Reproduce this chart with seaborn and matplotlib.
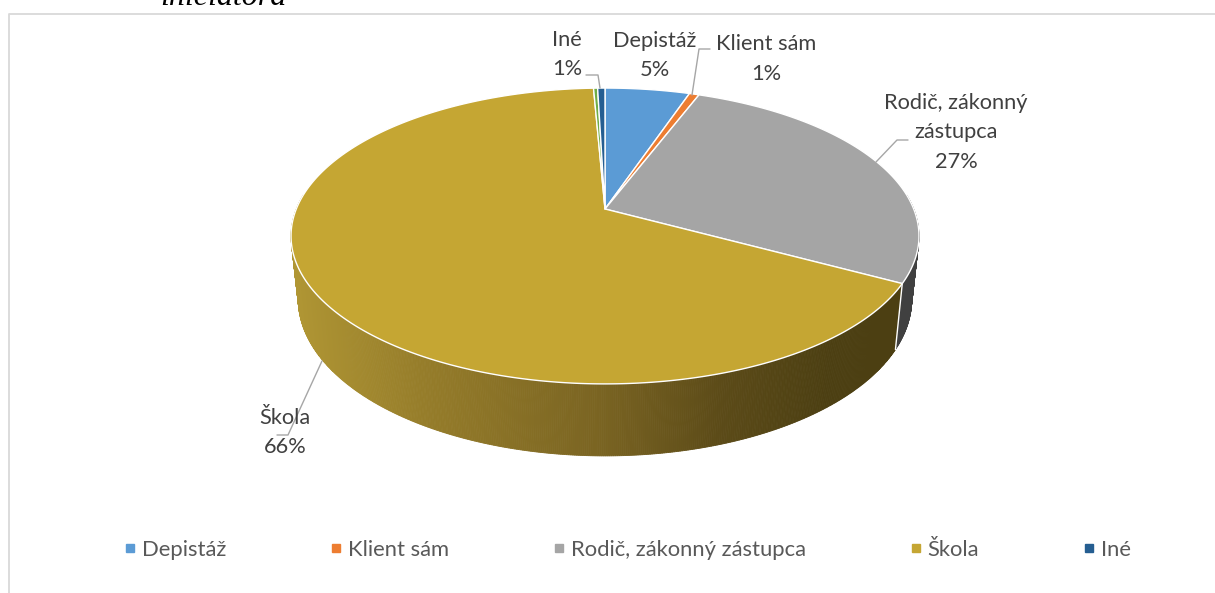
import numpy as np
import matplotlib
matplotlib.use("Agg")
import matplotlib.pyplot as plt
from matplotlib.lines import Line2D
import seaborn as sns

categories = ["Depistáž", "Klient sám", "Rodič, zákonný zástupca", "Škola", "", "Iné"]
values = [5.2, 0.6, 27.1, 66.4, 0.25, 0.45]
percent_labels = ["5%", "1%", "27%", "66%", "", "1%"]
label_lines = ["Depistáž", "Klient sám", "Rodič, zákonný\nzástupca", "Škola", "", "Iné"]
colors = ["#5B9BD5", "#ED7D31", "#A5A5A5", "#C5A633", "#70AD47", "#255E91"]
wall_colors = ["#3A5F82", "#8F4B1D", "#404040", "#4C3F12", "#44682B", "#163955"]

sns.set_theme(style="white")
plt.rcParams["font.family"] = ["Lato", "DejaVu Sans"]

fig = plt.figure(figsize=(12.15, 5.93), dpi=100, facecolor="white")
ax = fig.add_axes([0, 0, 1, 1])
ax.set_xlim(0, 1215)
ax.set_ylim(593, 0)
ax.axis("off")

# perspective projection of the pie disc
CX, CY, K, A, B = 605.0, 209.0, 0.1824, 308.7, 143.0


def rim(theta):
    u, v = np.sin(theta), np.cos(theta)
    d = 1 + K * v
    return CX + A * u / d, CY - B * v / d


def lower(x, y):
    return CX + 0.977 * (x - CX), 270.5 + 1.06 * (y - CY)


fractions = np.array(values) / np.sum(values)
edges = np.concatenate([[0], np.cumsum(fractions)]) * 2 * np.pi

# side wall
stops_x = [291, 420, 600, 720, 830, 920]
stops_c = np.array([[176, 150, 52], [150, 125, 42], [122, 100, 34],
                    [92, 75, 24], [76, 63, 18], [76, 63, 18]], dtype=float)
for i in range(len(values)):
    t0, t1 = edges[i], edges[i + 1]
    n = max(2, int((t1 - t0) * 180))
    ts = np.linspace(t0, t1, n + 1)
    for a, b in zip(ts[:-1], ts[1:]):
        if np.cos((a + b) / 2) > 0.1:
            continue
        xa, ya = rim(a)
        xb, yb = rim(b)
        xc, yc = lower(xb, yb)
        xd, yd = lower(xa, ya)
        if categories[i] == "Škola":
            xm = (xa + xb) / 2
            c = [np.interp(xm, stops_x, stops_c[:, j]) / 255 for j in range(3)]
        else:
            c = wall_colors[i]
        ax.fill([xa, xb, xc, xd], [ya, yb, yc, yd], color=c, lw=0.6, zorder=2)

# white seam between grey and school walls
xs, ys = rim(edges[3])
xl, yl = lower(xs, ys)
ax.plot([xs, xl], [ys, yl], color="white", lw=1.0, zorder=3)

# top face
for i in range(len(values)):
    ts = np.linspace(edges[i], edges[i + 1], max(3, int((edges[i + 1] - edges[i]) * 120)))
    x, y = rim(ts)
    ax.fill(np.r_[CX, x], np.r_[CY, y], facecolor=colors[i], edgecolor="white",
            lw=1.0, joinstyle="round", zorder=4)

# leader lines
leader = "#A6A6A6"
ax.plot([692, 699, 710], [95, 49, 49], color=leader, lw=1, zorder=5)
ax.plot([586, 598, 600], [75, 75, 88], color=leader, lw=1, zorder=5)
ax.plot([876, 897, 908], [162, 140, 140], color=leader, lw=1, zorder=5)
ax.plot([322, 288, 277], [361, 435, 435], color=leader, lw=1, zorder=5)

# data labels
label_pos = {0: (655, 55.5), 1: (766, 59), 2: (956, 132.5), 3: (285, 432.5), 5: (567, 54.5)}
for i, (x, y) in label_pos.items():
    ax.text(x, y, label_lines[i] + "\n" + percent_labels[i], ha="center", va="center",
            fontsize=15.7, color="#404040", linespacing=1.6, zorder=6)

# legend
handles = [Line2D([], [], marker="s", ls="none", ms=6, color=colors[i], label=categories[i])
           for i in range(len(values)) if categories[i]]
leg = ax.legend(handles=handles, ncol=5, loc="center", bbox_to_anchor=(626 / 1215, 1 - 550 / 593),
                bbox_transform=fig.transFigure, frameon=False, fontsize=15.8,
                labelcolor="#595959", handletextpad=0.15, handlelength=0.8,
                columnspacing=4.6, borderpad=0, borderaxespad=0)

# chart frame
ax.plot([9, 9, 1215], [593, 13.5, 13.5], color="#D9D9D9", lw=1.3, zorder=1)

# clipped caption from the surrounding document
ax.text(160, 5, "iniciátora", family=["Liberation Serif"], style="italic", fontsize=23,
        color="black", ha="left", va="baseline")

fig.savefig("out.png", dpi=100)
